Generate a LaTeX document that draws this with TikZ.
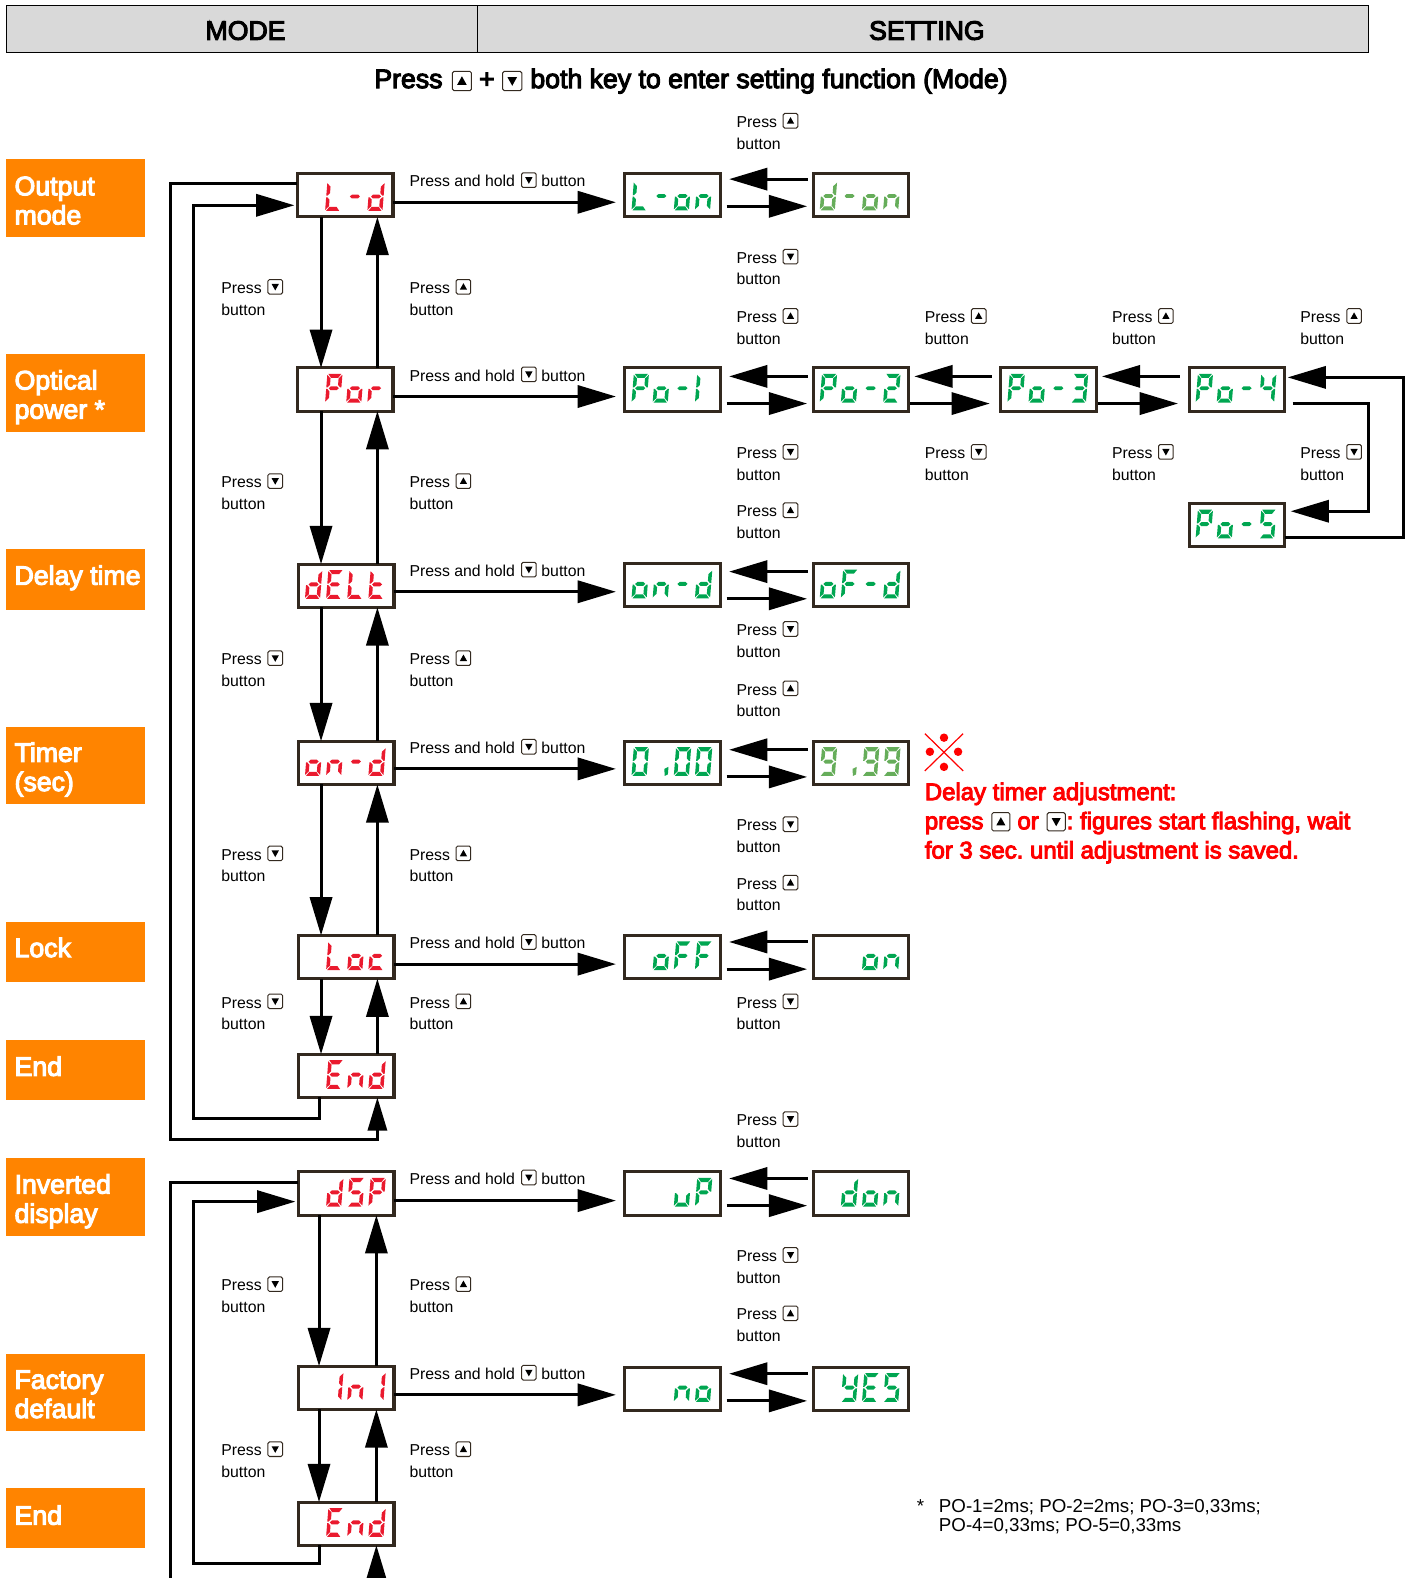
\documentclass[tikz,border=0pt]{standalone}
\usepackage{fontspec}
\setmainfont{Liberation Sans}
\newfontfamily\fbold[FakeBold=4]{Liberation Sans}
\usetikzlibrary{arrows.meta}
\frenchspacing
\definecolor{hdr}{HTML}{D9D9D9}
\definecolor{orng}{HTML}{FF8400}
\definecolor{boxc}{HTML}{33291F}
\definecolor{segred}{HTML}{EA1A2E}
\definecolor{seggreen}{HTML}{00A651}
\definecolor{seglight}{HTML}{66AD5A}
\newcommand{\szS}{\fontsize{15.7}{18}\selectfont}
\newcommand{\szH}{\fontsize{26.5}{30}\selectfont\fbold}
\newcommand{\szR}{\fontsize{23.8}{29}\selectfont\fbold}
\newcommand{\szF}{\fontsize{18.6}{20}\selectfont}
\tikzset{
  x=1pt,y=-1pt,
  conn/.style={line width=3pt,line join=miter,-{Triangle[length=38pt,width=22pt]}},
  connsmall/.style={line width=3pt,line join=miter,-{Triangle[length=33pt,width=19pt]}},
  plain/.style={line width=3pt,line join=miter},
  dispbox/.style={draw=boxc,fill=white,line width=3pt,minimum width=95pt,minimum height=43pt,inner sep=0pt,outer sep=0pt},
  lbl/.style={inner sep=0pt,outer sep=0pt,anchor=base west},
  small/.style={lbl,font=\szS,text=black},
  tag/.style={lbl,font=\szH,text=white},
  note/.style={lbl,font=\szR,text=red},
  keyf/.style={draw=boxc,fill=white,line width=1pt,rounded corners=1.5pt},
  headcell/.style={draw=black,fill=hdr,line width=1pt,inner sep=0pt,outer sep=0pt,anchor=north west,minimum height=47pt},
}
% seven segment shapes
\def\sega{\fill[\segcol] (1,0)--(14,0)--(11,4)--(4,4)--cycle;}
\def\segd{\fill[\segcol] (1,28.5)--(14,28.5)--(11,24.5)--(4,24.5)--cycle;}
\def\segg{\fill[\segcol] (2.5,14.25)--(4.5,12.3)--(10.5,12.3)--(12.5,14.25)--(10.5,16.2)--(4.5,16.2)--cycle;}
\def\segf{\fill[\segcol] (0,1)--(3.5,4.5)--(3.5,11)--(1.2,13.5)--(0,13.5)--cycle;}
\def\sege{\fill[\segcol] (0,15)--(1.2,15)--(3.5,17.5)--(3.5,24)--(0,27.5)--cycle;}
\def\segb{\fill[\segcol] (15,1)--(11.5,4.5)--(11.5,11)--(13.8,13.5)--(15,13.5)--cycle;}
\def\segc{\fill[\segcol] (15,15)--(13.8,15)--(11.5,17.5)--(11.5,24)--(15,27.5)--cycle;}
\def\segh{\fill[\segcol] (11,21.5)--(15,19.5)--(15,27)--(12,28.5)--cycle;}
\def\chB{none}
\def\chL{d,e,f}\def\chM{g}\def\chd{b,c,d,e,g}\def\chP{a,b,e,f,g}\def\cho{c,d,e,g}
\def\chr{e,g}\def\chE{a,d,e,f,g}\def\cht{d,e,f,g}\def\chn{c,e,g}\def\chO{a,b,c,d,e,f}
\def\chc{d,e,g}\def\chS{a,c,d,f,g}\def\chThree{a,b,c,d,g}\def\chTwo{a,b,d,e,g}
\def\chFour{b,c,f,g}\def\chNine{a,b,c,d,f,g}\def\chF{a,e,f,g}\def\chY{b,c,d,f,g}
\def\chu{c,d,e}\def\chR{b,c}\def\chLft{e,f}\def\chDp{h}
\def\digdy{-15.5}
\newcommand{\digitat}[4]{%
  \begin{scope}[shift={(#1.center)},shift={(-38.7+21*#2,\digdy)},xslant=0.08]
    \def\segcol{#3}\foreach \s in #4 {\csname seg\s\endcsname}
  \end{scope}}
\newcommand{\disp}[6]{\digitat{#1}{0}{#2}{#3}\digitat{#1}{1}{#2}{#4}\digitat{#1}{2}{#2}{#5}\digitat{#1}{3}{#2}{#6}}
\newcount\lblc
\newcommand{\keyicon}[4]{% x y size u/d
  \filldraw[keyf] (#1-#3/2,#2-#3/2) rectangle (#1+#3/2,#2+#3/2);
  \if#4u\fill[black] (#1-#3*0.25,#2+#3*0.2)--(#1+#3*0.25,#2+#3*0.2)--(#1,#2-#3*0.25)--cycle;
  \else\fill[black] (#1-#3*0.25,#2-#3*0.2)--(#1+#3*0.25,#2-#3*0.2)--(#1,#2+#3*0.25)--cycle;\fi}
\newcommand{\press}[3]{% x y(center of Press) key
  \global\advance\lblc by 1
  \node[small,name=p\the\lblc] at (#1,#2+6.6) {Press};
  \node[small,name=b\the\lblc] at (#1,#2+28.1) {button};
  \keyicon{#1+53.5}{#2}{14.5}{#3}}
\newcommand{\hold}[1]{%
  \global\advance\lblc by 1
  \node[small,name=h\the\lblc] at (407,#1+6.6) {Press and hold};
  \node[small,name=g\the\lblc] at (538,#1+6.6) {button};
  \keyicon{525.5}{#1}{14.5}{d}}
\newcommand{\vconn}[3]{\draw[conn] (#1,0 |- #2) -- (#1,0 |- #3);}
\newcommand{\hconn}[5]{\draw[conn,shorten <=#4pt,shorten >=#5pt] (0,#1 -| #2) -- (0,#1 -| #3);}
\newcommand{\tagbox}[4]{\node[fill=orng,inner sep=0pt,outer sep=0pt,anchor=north west,minimum width=138pt,minimum height=#3pt,name=#1] at (6,#2) {};}
\begin{document}
\begin{tikzpicture}
\useasboundingbox (0,0) rectangle (1401.1,1568);
% header
\node[headcell,minimum width=468pt,name=hmode] at (6,5) {};
\node[headcell,minimum width=886pt,name=hset] at (474,5) {};
\node[font=\szH,anchor=base,name=tmode] at (244,39.5) {MODE};
\node[font=\szH,anchor=base,name=tset] at (921,39.5) {SETTING};
% title
\node[lbl,font=\szH,name=t1] at (372,87.5) {Press};
\keyicon{459}{80.5}{19}{u}
\node[lbl,font=\szH,name=t2] at (476,87.5) {+};
\keyicon{509}{80.5}{19}{d}
\node[lbl,font=\szH,name=t3] at (527,87.5) {both key to enter setting function (Mode)};
% tags
\tagbox{o1}{158}{77}{}\node[tag,name=o1a] at (14.5,194) {Output};\node[tag,name=o1b] at (14.5,223) {mode};
\tagbox{o2}{352}{77}{}\node[tag,name=o2a] at (14.5,387) {Optical};\node[tag,name=o2b] at (14.5,416) {power *};
\tagbox{o3}{546}{60}{}\node[tag,name=o3a] at (14.5,581) {Delay time};
\tagbox{o4}{722}{77}{}\node[tag,name=o4a] at (14.5,757) {Timer};\node[tag,name=o4b] at (14.5,786) {(sec)};
\tagbox{o5}{916}{60}{}\node[tag,name=o5a] at (14.5,951) {Lock};
\tagbox{o6}{1033}{60}{}\node[tag,name=o6a] at (14.5,1069) {End};
\tagbox{o7}{1151}{77}{}\node[tag,name=o7a] at (14.5,1186) {Inverted};\node[tag,name=o7b] at (14.5,1215) {display};
\tagbox{o8}{1345}{77}{}\node[tag,name=o8a] at (14.5,1380) {Factory};\node[tag,name=o8b] at (14.5,1409) {default};
\tagbox{o9}{1479}{59}{}\node[tag,name=o9a] at (14.5,1515) {End};
% mode boxes
\foreach \n/\cx/\cy in {ld/343/194,por/343/387,delt/344/582,ond/344/758,loc/344/951,enda/344/1069,dsp/344/1186,ini/344/1379,endb/344/1514}
  {\node[dispbox,name=\n] at (\cx,\cy) {};}
% setting boxes
\foreach \n/\cx/\cy in {lon/668.5/193.5,don/855.5/193.5,po1/668.5/387,po2/855.5/387,po3/1042/387,po4/1229/387,po5/1229/522,
  ond2/668.5/581.5,ofd/855.5/581.5,t0/668.5/758,t9/855.5/758,off/668.5/951,on/855.5/951,up/668.5/1186,dn/855.5/1186,no/668.5/1380,yes/855.5/1380}
  {\node[dispbox,name=\n] at (\cx,\cy) {};}
% displays
\def\digdy{-13}
\disp{ld}{segred}{\chB}{\chL}{\chM}{\chd}
\disp{lon}{seggreen}{\chL}{\chM}{\cho}{\chn}
\disp{don}{seglight}{\chd}{\chM}{\cho}{\chn}
\def\digdy{-15.5}
\disp{por}{segred}{\chB}{\chP}{\cho}{\chr}
\disp{delt}{segred}{\chd}{\chE}{\chL}{\cht}
\disp{ond}{segred}{\cho}{\chn}{\chM}{\chd}
\disp{loc}{segred}{\chB}{\chL}{\cho}{\chc}
\disp{enda}{segred}{\chB}{\chE}{\chn}{\chd}
\disp{dsp}{segred}{\chB}{\chd}{\chS}{\chP}
\disp{ini}{segred}{\chB}{\chR}{\chn}{\chR}
\disp{endb}{segred}{\chB}{\chE}{\chn}{\chd}
\disp{po1}{seggreen}{\chP}{\cho}{\chM}{\chLft}
\disp{po2}{seggreen}{\chP}{\cho}{\chM}{\chTwo}
\disp{po3}{seggreen}{\chP}{\cho}{\chM}{\chThree}
\disp{po4}{seggreen}{\chP}{\cho}{\chM}{\chFour}
\disp{po5}{seggreen}{\chP}{\cho}{\chM}{\chS}
\disp{ond2}{seggreen}{\cho}{\chn}{\chM}{\chd}
\disp{ofd}{seggreen}{\cho}{\chF}{\chM}{\chd}
\disp{t0}{seggreen}{\chO}{\chDp}{\chO}{\chO}
\disp{t9}{seglight}{\chNine}{\chDp}{\chNine}{\chNine}
\disp{off}{seggreen}{\chB}{\cho}{\chF}{\chF}
\disp{on}{seggreen}{\chB}{\chB}{\cho}{\chn}
\disp{up}{seggreen}{\chB}{\chB}{\chu}{\chP}
\disp{dn}{seggreen}{\chB}{\chd}{\cho}{\chn}
\disp{no}{seggreen}{\chB}{\chB}{\chn}{\cho}
\disp{yes}{seggreen}{\chB}{\chY}{\chE}{\chS}
% vertical connectors
\vconn{319}{ld.south}{por.north}\vconn{375}{por.north}{ld.south}
\vconn{319}{por.south}{delt.north}\vconn{375}{delt.north}{por.south}
\vconn{319}{delt.south}{ond.north}\vconn{375}{ond.north}{delt.south}
\vconn{319}{ond.south}{loc.north}\vconn{375}{loc.north}{ond.south}
\vconn{319}{loc.south}{enda.north}\vconn{375}{enda.north}{loc.south}
\vconn{317}{dsp.south}{ini.north}\vconn{374}{ini.north}{dsp.south}
\vconn{317}{ini.south}{endb.north}\vconn{374}{endb.north}{ini.south}
% out connectors
\hconn{201}{ld.east}{lon.west}{0}{9}
\hconn{394}{por.east}{po1.west}{0}{9}
\hconn{588}{delt.east}{ond2.west}{0}{9}
\hconn{764}{ond.east}{t0.west}{0}{9}
\hconn{958}{loc.east}{off.west}{0}{9}
\hconn{1193}{dsp.east}{up.west}{0}{9}
\hconn{1386}{ini.east}{no.west}{0}{9}
% setting pairs
\foreach \a/\b/\yu/\yd in {lon/don/178/205,ond2/ofd/568/595,t0/t9/745/772,off/on/936/963,up/dn/1171/1198,no/yes/1365/1392,po1/po2/374/401}
 {\hconn{\yu}{\b.west}{\a.east}{5.5}{8.5}\hconn{\yd}{\a.east}{\b.west}{6}{6}}
\foreach \a/\b in {po2/po3,po3/po4}
 {\hconn{374}{\b.west}{\a.east}{9}{5.5}\hconn{401}{\a.east}{\b.west}{1.5}{11}}
% loops on the right
\draw[conn,shorten <=8pt,shorten >=6pt] (0,401 -| po4.east) -- (1360,401) -- (1360,508) -- (0,508 -| po5.east);
\draw[conn,shorten >=3pt] (0,534 -| po5.east) -- (1395,534) -- (1395,375) -- (0,375 -| po4.east);
% loops on the left
\draw[connsmall] (0,182 -| ld.west) -- (169,182) -- (169,1132) -- (375,1132) -- (375,0 |- enda.south);
\draw[conn,shorten >=3pt] (317,0 |- enda.south) -- (317,1111) -- (192,1111) -- (192,204) -- (0,204 -| ld.west);
\coordinate (lowa) at (169,1590);
\coordinate (lowb) at (374,1590);
\draw[plain] (0,1175 -| dsp.west) -- (169,1175) -- (lowa);
\draw[conn,shorten >=3pt] (317,0 |- endb.south) -- (317,1554) -- (192,1554) -- (192,1194) -- (0,1194 -| dsp.west);
\draw[conn] (lowb) -- (374,0 |- endb.south);
% labels
\foreach \y in {285,478,654,848,995,1276,1440}{\press{220}{\y}{d}\press{407}{\y}{u}}
\foreach \y in {179,372,566,742,936,1170,1364}{\hold{\y}}
\foreach \y in {120,314,507,684,877,1305}{\press{732}{\y}{u}}
\foreach \y in {255,449,625,819,995,1112,1247}{\press{732}{\y}{d}}
\foreach \x in {919,1105,1292}{\press{\x}{314}{u}\press{\x}{449}{d}}
% note
\draw[red,line width=1.2pt] (919,729) -- (957,766);
\draw[red,line width=1.2pt] (957,729) -- (919,766);
\fill[red] (938,733) circle (4.2) (938,762) circle (4.2) (924,747) circle (4.2) (952,747) circle (4.2);
\node[note,name=n1] at (919,795) {Delay timer adjustment:};
\node[note,name=n2] at (919,824) {press};
\keyicon{994.5}{816.5}{18}{u}
\node[note,name=n3] at (1011,824) {or};
\keyicon{1049.5}{816.5}{18}{d}
\node[note,name=n4] at (1060,824) {: figures start flashing, wait};
\node[note,name=n5] at (919,853) {for 3 sec. until adjustment is saved.};
% footnote
\node[lbl,font=\szF,name=f0] at (911,1503) {*};
\node[lbl,font=\szF,name=f1] at (933,1503) {PO-1=2ms; PO-2=2ms; PO-3=0,33ms;};
\node[lbl,font=\szF,name=f2] at (933,1522) {PO-4=0,33ms; PO-5=0,33ms};
\end{tikzpicture}
\end{document}
